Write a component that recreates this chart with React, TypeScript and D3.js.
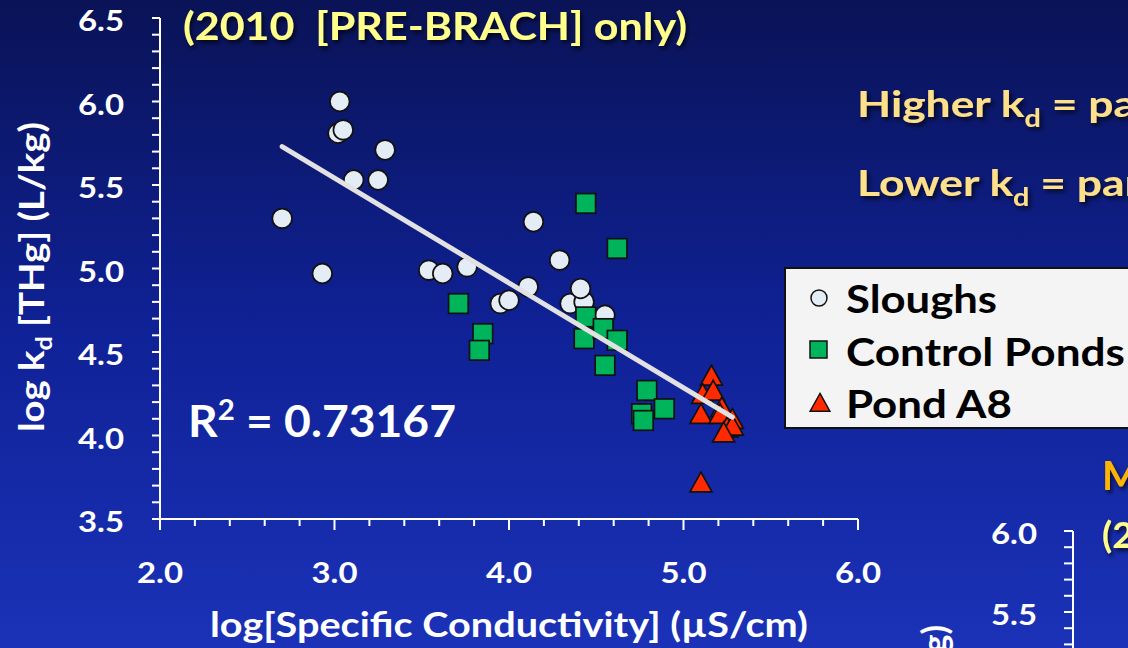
import React from "react";
import * as d3 from "d3";

const W = 1128;
const H = 648;

const sloughX = [2.70, 2.93, 3.03, 3.02, 3.05, 3.11, 3.25, 3.29, 3.54, 3.62, 3.76, 3.95, 4.00, 4.11, 4.14, 4.29, 4.35, 4.43, 4.41, 4.55];
const sloughY = [5.30, 4.97, 6.00, 5.81, 5.83, 5.53, 5.53, 5.71, 4.99, 4.97, 5.01, 4.79, 4.81, 4.89, 5.28, 5.05, 4.79, 4.80, 4.88, 4.72];

const pondX = [4.44, 4.62, 3.71, 3.85, 3.83, 4.44, 4.43, 4.54, 4.62, 4.55, 4.79, 4.89, 4.76, 4.77];
const pondY = [5.39, 5.12, 4.79, 4.61, 4.51, 4.71, 4.58, 4.64, 4.57, 4.42, 4.27, 4.16, 4.13, 4.09];

const a8X = [5.16, 5.11, 5.17, 5.22, 5.10, 5.21, 5.28, 5.25, 5.28, 5.23, 5.10];
const a8Y = [4.35, 4.24, 4.26, 4.16, 4.12, 4.12, 4.09, 4.04, 4.05, 4.01, 3.71];

const fitX = [2.70, 5.28];
const fitY = [5.73, 4.11];

const xTicks = [2.0, 3.0, 4.0, 5.0, 6.0];
const yTicks = [3.5, 4.0, 4.5, 5.0, 5.5, 6.0, 6.5];
const rightTicks = [5.5, 6.0];

const legendItems = ["Sloughs", "Control Ponds", "Pond A8"];
const legendWidths = [151, 279, 166];

const FONT = "Lato, 'Open Sans', sans-serif";
const TICK_SIZE = 29;
const TICK_W = 46;

export default function App() {
  const x = d3.scaleLinear().domain([2, 6]).range([160, 858]);
  const y = d3.scaleLinear().domain([3.5, 6.5]).range([519, 18]);
  const yR = d3.scaleLinear().domain([5.5, 6.0]).range([612, 531]);

  const minorY = d3.range(35, 66).map((v) => v / 10);
  const minorX = d3.range(10, 31).map((v) => v / 5);
  const minorR = d3.range(50, 61).map((v) => v / 10);

  const line = d3.line<number>().x((_, i) => x(fitX[i])).y((_, i) => y(fitY[i]));

  const tri = (cx: number, cy: number, s: number) =>
    `M${cx},${cy - s * 0.62} L${cx + s * 0.58},${cy + s * 0.42} L${cx - s * 0.58},${cy + s * 0.42} Z`;

  return (
    <svg width={W} height={H} style={{ position: "absolute", left: 0, top: 0, display: "block" }}>
      <defs>
        <linearGradient id="bg" x1="0" y1="0" x2="0" y2="1">
          <stop offset="0" stopColor="#0a1356" />
          <stop offset="0.5" stopColor="#0f2195" />
          <stop offset="1" stopColor="#1b32b8" />
        </linearGradient>
        <filter id="sh" x="-5%" y="-20%" width="115%" height="150%">
          <feDropShadow dx="2" dy="3" stdDeviation="2" floodColor="#000" floodOpacity="0.7" />
        </filter>
      </defs>
      <rect x={0} y={0} width={W} height={H} fill="url(#bg)" />

      {/* Title */}
      <text x={183} y={40} fill="#ffff8c" fontFamily={FONT} fontWeight={700} fontSize={38}
        textLength={504} lengthAdjust="spacingAndGlyphs" filter="url(#sh)" style={{ whiteSpace: "pre" }}>
        (2010  [PRE-BRACH] only)
      </text>

      {/* Right side notes */}
      <g transform="translate(857,117) scale(1.2,1)">
        <text x={0} y={0} fill="#ffe08a" fontFamily={FONT} fontWeight={700} fontSize={37} filter="url(#sh)">
          Higher k<tspan fontSize={24} dy={10}>d</tspan><tspan dy={-10}> = partitioning</tspan>
        </text>
      </g>
      <g transform="translate(857,196) scale(1.2,1)">
        <text x={0} y={0} fill="#ffe08a" fontFamily={FONT} fontWeight={700} fontSize={37} filter="url(#sh)">
          Lower k<tspan fontSize={24} dy={10}>d</tspan><tspan dy={-10}> = partitioning</tspan>
        </text>
      </g>

      {/* Y axis */}
      <line x1={160} x2={160} y1={y(6.5)} y2={y(3.5)} stroke="#fff" strokeWidth={2} />
      {minorY.map((v) => (
        <line key={"yt" + v} x1={152} x2={160} y1={y(v)} y2={y(v)} stroke="#fff" strokeWidth={2} />
      ))}
      {yTicks.map((v) => (
        <text key={"yl" + v} x={124} y={y(v) + 13} textAnchor="end" fill="#fff" fontFamily={FONT}
          fontWeight={700} fontSize={TICK_SIZE} textLength={TICK_W} lengthAdjust="spacingAndGlyphs">
          {v.toFixed(1)}
        </text>
      ))}

      {/* X axis */}
      <line x1={x(2)} x2={x(6)} y1={519} y2={519} stroke="#fff" strokeWidth={2} />
      {minorX.map((v) => {
        const major = Math.abs(v - Math.round(v)) < 1e-6;
        return (
          <line key={"xt" + v} x1={x(v)} x2={x(v)} y1={519} y2={major ? 530 : 526} stroke="#fff" strokeWidth={2} />
        );
      })}
      {xTicks.map((v) => (
        <text key={"xl" + v} x={x(v)} y={583} textAnchor="middle" fill="#fff" fontFamily={FONT}
          fontWeight={700} fontSize={TICK_SIZE} textLength={TICK_W} lengthAdjust="spacingAndGlyphs">
          {v.toFixed(1)}
        </text>
      ))}

      {/* Axis titles */}
      <text x={509} y={637} textAnchor="middle" fill="#fff" fontFamily={FONT} fontWeight={700} fontSize={34}
        textLength={598} lengthAdjust="spacingAndGlyphs">
        log[Specific Conductivity] (µS/cm)
      </text>
      <text transform="translate(44,277) rotate(-90)" textAnchor="middle" fill="#fff" fontFamily={FONT}
        fontWeight={700} fontSize={35} textLength={310} lengthAdjust="spacingAndGlyphs">
        log k<tspan fontSize={23} dy={8}>d</tspan><tspan dy={-8}> [THg] (L/kg)</tspan>
      </text>

      {/* Sloughs */}
      {sloughX.map((v, i) => (
        <circle key={"s" + i} cx={x(v)} cy={y(sloughY[i])} r={9.8} fill="#e4ecf6" stroke="#111" strokeWidth={1.7} />
      ))}
      {/* Control ponds */}
      {pondX.map((v, i) => (
        <rect key={"p" + i} x={x(v) - 9.8} y={y(pondY[i]) - 9.8} width={19.6} height={19.6} fill="#00b45c"
          stroke="#111" strokeWidth={1.7} />
      ))}
      {/* Pond A8 */}
      {a8X.map((v, i) => (
        <path key={"a" + i} d={tri(x(v), y(a8Y[i]), 19)} fill="#ff2a00" stroke="#111" strokeWidth={1.7} />
      ))}

      {/* Fit line (drawn on top of the markers) */}
      <path d={line([0, 1]) || ""} stroke="#e2e2e2" strokeWidth={5} strokeLinecap="round" fill="none" />

      {/* R2 */}
      <text x={188} y={437} fill="#fff" fontFamily={FONT} fontWeight={700} fontSize={44}
        textLength={268} lengthAdjust="spacingAndGlyphs">
        R<tspan fontSize={28} dy={-17}>2</tspan><tspan dy={17}> = 0.73167</tspan>
      </text>

      {/* Legend */}
      <rect x={785} y={268} width={360} height={160} fill="#f4f4f4" stroke="#111" strokeWidth={2} />
      {legendItems.map((t, i) => (
        <text key={"lg" + i} x={846} y={313 + i * 52.5} fill="#000" fontFamily={FONT} fontWeight={700} fontSize={39}
          textLength={legendWidths[i]} lengthAdjust="spacingAndGlyphs">
          {t}
        </text>
      ))}
      <circle cx={819} cy={298} r={8} fill="#e4ecf6" stroke="#111" strokeWidth={1.5} />
      <rect x={810} y={341} width={17} height={17} fill="#00b45c" stroke="#111" strokeWidth={1.5} />
      <path d={tri(820, 404, 17)} fill="#ff2a00" stroke="#111" strokeWidth={1.5} />

      {/* Partial second chart (bottom right) */}
      <text x={1102} y={490} fill="#ffb400" fontFamily={FONT} fontWeight={700} fontSize={40} filter="url(#sh)">
        MeHg
      </text>
      <text x={1102} y={548} fill="#ffff8c" fontFamily={FONT} fontWeight={700} fontSize={37} filter="url(#sh)">
        (2011)
      </text>
      <line x1={1073} x2={1073} y1={yR(6.0)} y2={H} stroke="#fff" strokeWidth={2} />
      {minorR.map((v) => (
        <line key={"rt" + v} x1={1064} x2={1073} y1={yR(v)} y2={yR(v)} stroke="#fff" strokeWidth={2} />
      ))}
      {rightTicks.map((v) => (
        <text key={"rl" + v} x={1037} y={yR(v) + 13} textAnchor="end" fill="#fff" fontFamily={FONT}
          fontWeight={700} fontSize={TICK_SIZE} textLength={TICK_W} lengthAdjust="spacingAndGlyphs">
          {v.toFixed(1)}
        </text>
      ))}
      <text transform="translate(947,625) rotate(-90)" textAnchor="end" fill="#fff" fontFamily={FONT}
        fontWeight={700} fontSize={35}>
        log k<tspan fontSize={23} dy={8}>d</tspan><tspan dy={-8}> [MeHg] (L/kg)</tspan>
      </text>
    </svg>
  );
}
